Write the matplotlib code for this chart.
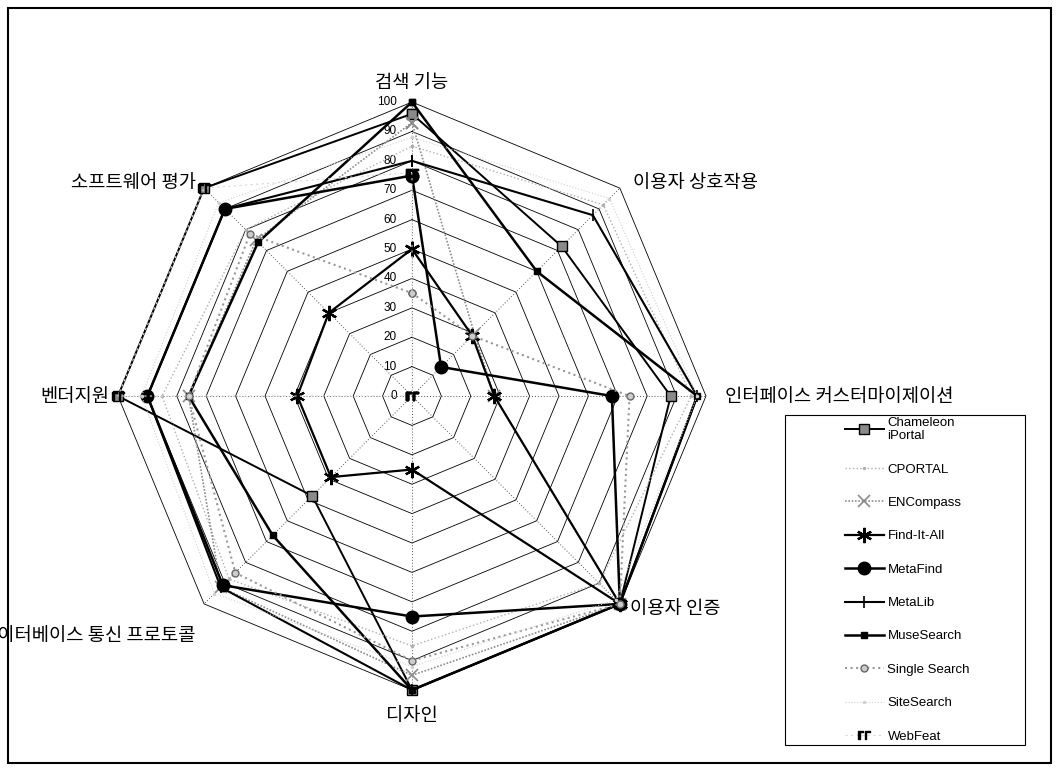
import numpy as np
import matplotlib.pyplot as plt
from matplotlib.patches import Rectangle

plt.rcParams['font.family'] = ['Noto Sans CJK KR', 'DejaVu Sans']

categories = ['검색 기능', '이용자 상호작용', '인터페이스 커스터마이제이션', '이용자 인증',
              '디자인', '데이터베이스 통신 프로토콜', '벤더지원', '소프트웨어 평가']
ticks = [0, 10, 20, 30, 40, 50, 60, 70, 80, 90, 100]

# 점수 (그림에서 읽은 대략값)
chameleon = [96, 72, 88, 100, 100, 48, 100, 100]
cportal = [85, 92, 95, 90, 85, 88, 85, 80]
encompass = [93, 30, 28, 100, 95, 92, 76, 75]
find_it_all = [50, 29, 28, 100, 25, 39, 39, 40]
metafind = [75, 14, 68, 100, 75, 91, 90, 90]
metalib = [80, 87, 97, 100, 100, 92, 90, 90]
musesearch = [100, 60, 97, 100, 100, 67, 76, 74]
single_search = [35, 29, 74, 100, 90, 85, 76, 78]
sitesearch = [88, 95, 97, 98, 92, 95, 92, 93]
webfeat = [76, 0, 0, 0, 0, 0, 100, 100]

series = [
    ('Chameleon\niPortal', chameleon, dict(color='black', lw=1.4, marker='s', ms=7, mfc='#8a8a8a', mec='black')),
    ('CPORTAL', cportal, dict(color='#b0b0b0', lw=1.0, ls=':', marker='.', ms=3)),
    ('ENCompass', encompass, dict(color='#8c8c8c', lw=1.2, ls=(0, (1, 1)), marker='x', ms=8, mew=1.2)),
    ('Find-It-All', find_it_all, dict(color='black', lw=1.6, marker=(6, 2, 0), ms=11, mew=1.6)),
    ('MetaFind', metafind, dict(color='black', lw=1.8, marker='o', ms=9)),
    ('MetaLib', metalib, dict(color='black', lw=1.5, marker='|', ms=9, mew=1.2)),
    ('MuseSearch', musesearch, dict(color='black', lw=1.8, marker='s', ms=4)),
    ('Single Search', single_search, dict(color='#999999', lw=1.5, ls=':', marker='o', ms=5, mfc='#cccccc', mec='#666666')),
    ('SiteSearch', sitesearch, dict(color='#d0d0d0', lw=0.8, ls=':', marker='.', ms=3)),
    ('WebFeat', webfeat, dict(color='#d8d8d8', lw=0.8, ls=(0, (2, 3)), marker=r'$\Gamma\Gamma$', ms=8, mfc='black', mec='black')),
]

angles = np.linspace(0, 2 * np.pi, len(categories), endpoint=False)
closed = np.append(angles, angles[0])

fig = plt.figure(figsize=(10.58, 7.69), dpi=100)
ax = fig.add_axes([0.1115, 0.1027, 0.5558, 0.7646], projection='polar')
ax.set_theta_offset(np.pi / 2)
ax.set_theta_direction(-1)
ax.set_ylim(0, 100)
ax.grid(False)
ax.set_xticks([])
ax.set_yticks([])
ax.spines['polar'].set_visible(False)
ax.patch.set_alpha(0)

# 팔각형 눈금선과 축선
for r in ticks[1:]:
    ax.plot(closed, [r] * len(closed), color='black', lw=0.6, zorder=1, clip_on=False)
for a in angles:
    ax.plot([a, a], [0, 100], color='#555555', lw=0.7, ls=(0, (1, 2)), zorder=1, clip_on=False)

for t in ticks:
    ax.annotate(str(t), xy=(0, t), xytext=(-11, 0), textcoords='offset points',
                ha='right', va='center', fontsize=8.5, family='Liberation Sans')

for name, vals, st in series:
    v = vals + vals[:1]
    ax.plot(closed, v, label=name, zorder=3, clip_on=False, **st)

offsets = [(0, 14), (9.4, 4.3), (13.7, 0), (7, -3), (0, -18), (-6.5, -23), (-6, 0), (-6, 4.3)]
has = ['center', 'left', 'left', 'left', 'center', 'right', 'right', 'right']
for a, lab, off, h in zip(angles, categories, offsets, has):
    ax.annotate(lab, xy=(a, 100), xytext=off, textcoords='offset points',
                ha=h, va='center', fontsize=13.5, annotation_clip=False)

leg = fig.legend(loc='upper left', bbox_to_anchor=(838 / 1058, 1 - 410 / 769),
                 frameon=False, borderpad=0, handlelength=3.0, handletextpad=0.25,
                 labelspacing=1.6, prop={'family': 'Liberation Sans', 'size': 9.5})

fig.patches.append(Rectangle((785 / 1058, 1 - 745 / 769), 240 / 1058, 330 / 769,
                             transform=fig.transFigure, fill=False, lw=0.8, ec='black'))
fig.patches.append(Rectangle((8 / 1058, 1 - 763 / 769), 1043 / 1058, 755 / 769,
                             transform=fig.transFigure, fill=False, lw=1.5, ec='black'))

fig.savefig('out.png', dpi=100)
